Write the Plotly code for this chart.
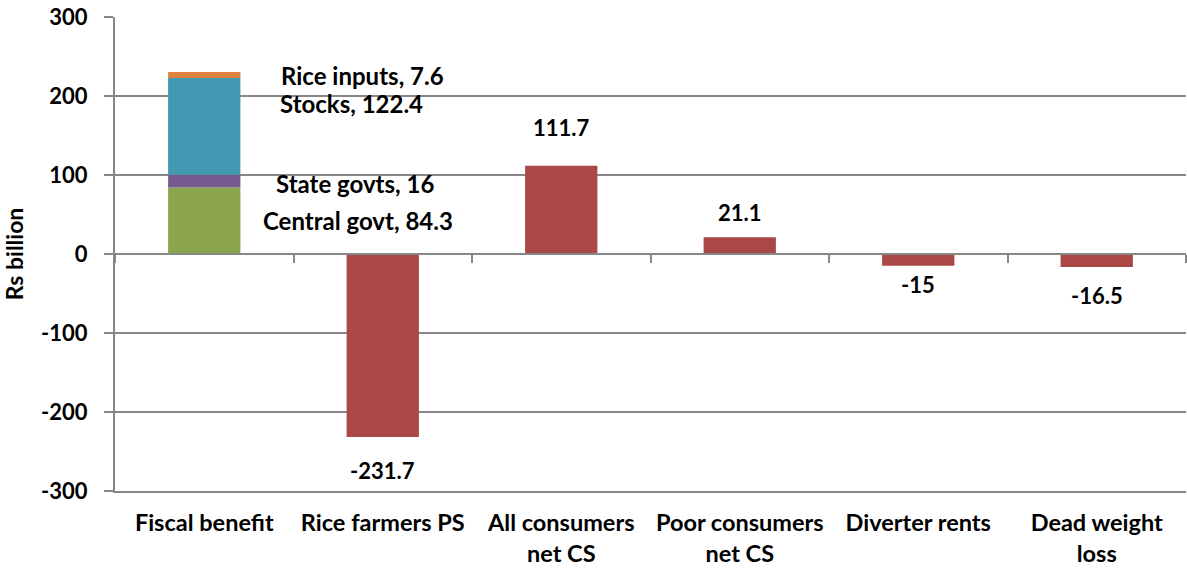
import plotly.graph_objects as go

categories = ["Fiscal benefit", "Rice farmers PS", "All consumers<br>net CS",
              "Poor consumers<br>net CS", "Diverter rents", "Dead weight<br>loss"]

# Fiscal benefit stack components
stack_names = ["Central govt", "State govts", "Stocks", "Rice inputs"]
stack_values = [84.3, 16, 122.4, 7.6]
stack_colors = ["#8AA54C", "#765A8F", "#4399B1", "#DE843F"]

# Other categories
other_values = [-231.7, 111.7, 21.1, -15, -16.5]
other_labels = ["-231.7", "111.7", "21.1", "-15", "-16.5"]
bar_color = "#A94846"

y_ticks = [-300, -200, -100, 0, 100, 200, 300]
y_tick_text = ["-300", "-200", "-100", "0", "100", "200", "300"]

FONT = "Lato"
GRID = "#878787"

fig = go.Figure()
for name, v, c in zip(stack_names, stack_values, stack_colors):
    fig.add_trace(go.Bar(x=[categories[0]], y=[v], name=name, marker_color=c,
                         marker_line_width=0, width=0.405, showlegend=False))
fig.add_trace(go.Bar(x=categories[1:], y=other_values, marker_color=bar_color,
                     marker_line_width=0, width=0.405, showlegend=False))

annotations = []
stack_label_pos = {"Rice inputs": (158, 225.6), "Stocks": (147, 190.0),
                   "State govts": (151, 88.7), "Central govt": (154, 41.8)}
for name, v in zip(stack_names, stack_values):
    xs, yv = stack_label_pos[name]
    annotations.append(dict(x=categories[0], y=yv, xref="x", yref="y",
                            text=f"{name}, {v:g}", showarrow=False, xshift=xs,
                            font=dict(family=FONT, size=24, color="black", weight="bold")))
label_shift = [-33, 38, 25, -19, -28]
for cat, v, lab, s in zip(categories[1:], other_values, other_labels, label_shift):
    annotations.append(dict(x=cat, y=v, xref="x", yref="y", text=lab, showarrow=False,
                            yshift=s, yanchor="middle",
                            font=dict(family=FONT, size=22, color="black", weight="bold")))

fig.update_layout(
    barmode="relative",
    width=1187, height=571,
    margin=dict(l=115, r=1, t=17, b=80),
    paper_bgcolor="white", plot_bgcolor="white",
    font=dict(family=FONT, size=22, color="black", weight="bold"),
    annotations=annotations,
    xaxis=dict(type="category", categoryarray=categories, range=[-0.5, 5.5],
               showline=True, linecolor=GRID, linewidth=2, showgrid=False,
               ticks="", ticklabelstandoff=10,
               tickfont=dict(family=FONT, size=23.5, color="black", weight="bold")),
    xaxis2=dict(overlaying="x", anchor="free", position=0.5, range=[-0.5, 5.5],
                tickmode="array", tickvals=[-0.5, 0.5, 1.5, 2.5, 3.5, 4.5, 5.5],
                ticks="outside", ticklen=8, tickwidth=2, tickcolor=GRID,
                showticklabels=False, showline=True, linecolor=GRID, linewidth=2,
                showgrid=False, zeroline=False),
    yaxis=dict(range=[-300, 300], tickvals=y_ticks, ticktext=y_tick_text,
               showgrid=True, gridcolor=GRID,
               gridwidth=2, zeroline=False, showline=True, linecolor=GRID, linewidth=2,
               ticks="outside", ticklen=9, tickwidth=2, tickcolor=GRID,
               ticklabelstandoff=12,
               tickfont=dict(family=FONT, size=22, color="black", weight="bold"),
               title=dict(text="Rs billion", standoff=14,
                          font=dict(family=FONT, size=23, color="black", weight="bold"))),
)
fig.add_trace(go.Scatter(x=[-0.5, 5.5], y=[0, 0], xaxis="x2", mode="lines",
                         line=dict(width=0), hoverinfo="skip", showlegend=False))

fig.write_html("out.html")
